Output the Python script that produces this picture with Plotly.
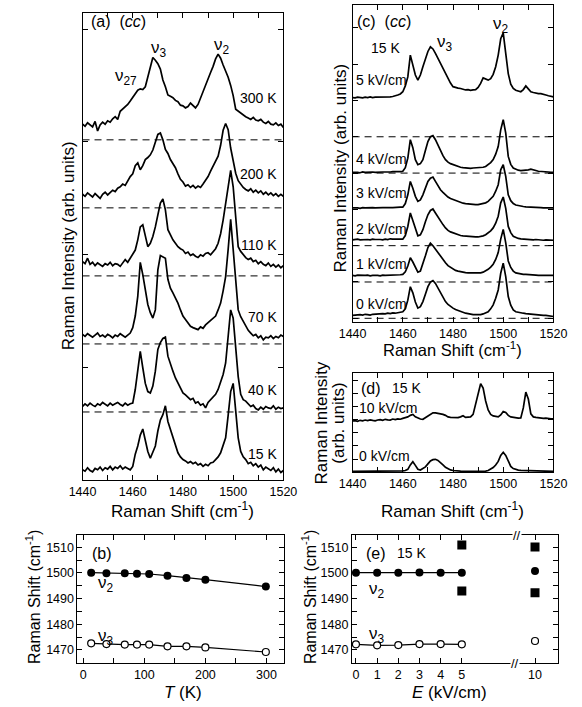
import plotly.graph_objects as go

W, H = 582, 707
FONT = "Liberation Sans, Arial, Helvetica, sans-serif"


def px(x):
    return x / W


def py(y):
    return 1 - y / H


# ---------------- data ----------------
shift = list(range(1440, 1521))  # Raman shift grid (cm^-1)

# (a) temperature dependence (cc)
a_labels = ["300 K", "200 K", "110 K", "70 K", "40 K", "15 K"]
a_300K = [.23, .20, .25, .22, .19, .27, .13, .22, .26, .23,
          .28, .26, .31, .34, .30, .42, .45, .48, .52, .57,
          .62, .68, .73, .75, .74, .78, .92, 1.09, 1.21, 1.17,
          1.12, 1.04, .88, .78, .66, .64, .62, .58, .56, .51,
          .50, .47, .49, .54, .50, .47, .52, .62, .70, .79,
          .90, .99, 1.08, 1.19, 1.26, 1.20, 1.10, 1.02, .92, .80,
          .65, .45, .42, .40, .36, .34, .32, .30, .33, .29,
          .28, .30, .26, .24, .27, .23, .22, .25, .21, .23,
          .18]
a_200K = [.20, .17, .22, .19, .16, .21, .18, .14, .20, .23,
          .19, .22, .26, .24, .29, .31, .35, .33, .40, .46,
          .50, .62, .66, .56, .62, .71, .74, .78, .85, .96,
          1.08, 1.10, 1.00, .86, .80, .71, .65, .59, .50, .42,
          .38, .32, .34, .30, .33, .29, .32, .30, .35, .40,
          .46, .54, .61, .68, .76, .92, 1.14, 1.24, 1.15, .88,
          .68, .51, .40, .34, .30, .27, .25, .28, .23, .26,
          .22, .25, .20, .23, .19, .22, .18, .21, .17, .20,
          .17]
a_110K = [.21, .18, .26, .17, .20, .15, .19, .16, .14, .18,
          .16, .20, .15, .18, .17, .14, .19, .24, .20, .26,
          .31, .38, .53, .72, .75, .57, .43, .48, .58, .72,
          .90, 1.07, 1.13, .97, .68, .60, .53, .48, .43, .40,
          .38, .33, .35, .30, .32, .29, .27, .31, .29, .33,
          .34, .31, .36, .40, .48, .62, .82, 1.05, 1.31, 1.55,
          1.31, .82, .43, .36, .31, .27, .24, .26, .21, .23,
          .18, .21, .17, .15, .19, .14, .17, .13, .16, .12,
          .15]
a_70K = [.14, .11, .15, .12, .10, .13, .16, .11, .13, .10,
         .14, .12, .09, .13, .11, .15, .12, .10, .13, .16,
         .24, .41, .70, 1.20, 1.02, .80, .58, .46, .38, .50,
         1.09, 1.30, 1.28, 1.26, .95, .82, .75, .68, .60, .50,
         .41, .36, .30, .26, .24, .22, .21, .25, .23, .28,
         .31, .34, .38, .41, .50, .60, .78, .99, 1.39, 1.83,
         1.39, 1.00, .50, .40, .33, .25, .20, .16, .12, .14,
         .09, .12, .06, .10, .09, .12, .08, .11, .09, .13,
         .11]
a_40K = [.08, .12, .09, .13, .10, .08, .12, .10, .14, .11,
         .09, .13, .10, .12, .14, .11, .09, .13, .10, .12,
         .13, .33, .60, .89, .65, .42, .30, .28, .38, .60,
         .92, 1.02, 1.08, 1.10, .82, .70, .60, .50, .43, .35,
         .28, .25, .22, .18, .20, .13, .15, .10, .12, .06,
         .14, .18, .23, .26, .33, .43, .55, .72, 1.11, 1.50,
         1.38, .98, .52, .26, .18, .16, .12, .08, .10, .05,
         .03, .07, .04, .08, .06, .05, .09, .04, .07, .05,
         .06]
a_15K = [.15, .13, .18, .14, .12, .17, .15, .19, .14, .18,
         .16, .20, .15, .19, .17, .21, .16, .19, .17, .15,
         .20, .38, .50, .66, .75, .58, .42, .32, .40, .50,
         .72, .88, .96, 1.09, .86, .74, .62, .50, .40, .34,
         .30, .28, .25, .27, .24, .26, .22, .24, .20, .23,
         .21, .25, .26, .30, .34, .40, .50, .62, .95, 1.30,
         1.42, 1.05, .62, .42, .34, .30, .24, .26, .21, .24,
         .19, .22, .15, .19, .16, .14, .18, .12, .16, .11,
         .14]

# (c) field dependence at 15 K (cc)
c_labels = ["5 kV/cm", "4 kV/cm", "3 kV/cm", "2 kV/cm", "1 kV/cm", "0 kV/cm"]
c_5 = [1.08, 1.07, 1.09, 1.08, 1.07, 1.09, 1.08, 1.10, 1.08, 1.09,
       1.09, 1.08, 1.10, 1.09, 1.10, 1.10, 1.11, 1.12, 1.15, 1.18,
       1.24, 1.40, 1.65, 2.25, 1.95, 1.70, 1.56, 1.70, 1.93, 2.15,
       2.35, 2.48, 2.42, 2.30, 2.16, 2.02, 1.88, 1.74, 1.60, 1.48,
       1.38, 1.35, 1.34, 1.33, 1.30, 1.29, 1.30, 1.28, 1.29, 1.30,
       1.36, 1.47, 1.62, 1.58, 1.56, 1.60, 1.72, 1.93, 2.25, 2.70,
       2.86, 2.30, 1.74, 1.45, 1.33, 1.28, 1.25, 1.24, 1.30, 1.40,
       1.32, 1.24, 1.22, 1.20, 1.19, 1.19, 1.18, 1.15, 1.13, 1.12,
       1.10]
c_4 = [.02, .03, .02, .01, .03, .02, .03, .02, .03, .02,
       .03, .02, .03, .03, .02, .03, .04, .03, .04, .04,
       .05, .15, .41, .92, .70, .37, .23, .26, .37, .62,
       .87, 1.00, 1.03, .92, .76, .60, .48, .37, .30, .26,
       .23, .20, .18, .16, .15, .14, .14, .13, .14, .14,
       .14, .15, .16, .18, .23, .29, .37, .52, .73, 1.19,
       1.47, 1.10, .46, .24, .14, .10, .08, .07, .07, .08,
       .09, .11, .10, .07, .05, .04, .04, .03, .03, .02,
       .02]
c_3 = [.04, .05, .04, .03, .05, .04, .05, .04, .05, .04,
       .05, .04, .05, .05, .04, .05, .05, .06, .05, .06,
       .06, .16, .40, .77, .58, .36, .22, .26, .40, .60,
       .77, .86, .89, .77, .66, .54, .47, .40, .34, .30,
       .27, .24, .21, .19, .17, .16, .15, .14, .14, .13,
       .13, .14, .16, .18, .22, .28, .36, .50, .68, 1.09,
       1.23, .91, .40, .24, .16, .12, .10, .09, .08, .07,
       .07, .06, .06, .05, .05, .05, .04, .05, .04, .04,
       .04]
c_2 = [.16, .17, .18, .16, .17, .18, .17, .16, .18, .17,
       .18, .17, .16, .18, .17, .19, .18, .17, .18, .18,
       .18, .28, .53, .90, .68, .44, .27, .30, .44, .66,
       .85, .97, 1.01, .90, .78, .67, .58, .49, .42, .38,
       .35, .32, .30, .28, .27, .26, .25, .25, .24, .24,
       .24, .25, .27, .30, .35, .41, .49, .62, .81, 1.18,
       1.34, 1.03, .53, .36, .26, .22, .20, .19, .18, .18,
       .17, .17, .16, .17, .16, .16, .15, .16, .15, .15,
       .15]
c_1 = [.18, .17, .19, .18, .17, .18, .19, .17, .18, .19,
       .18, .17, .19, .18, .18, .19, .18, .19, .20, .20,
       .21, .28, .44, .67, .55, .39, .27, .30, .49, .72,
       .95, 1.07, 1.00, .90, .81, .72, .62, .53, .45, .40,
       .35, .32, .30, .28, .27, .26, .25, .25, .24, .24,
       .24, .25, .27, .30, .35, .41, .49, .62, .81, 1.18,
       1.45, 1.08, .58, .40, .30, .25, .23, .22, .21, .21,
       .20, .20, .19, .19, .18, .18, .19, .18, .18, .17,
       .18]
c_0 = [.08, .09, .08, .10, .09, .11, .10, .09, .11, .12,
       .11, .12, .13, .12, .14, .13, .15, .14, .16, .17,
       .18, .26, .50, .87, .70, .45, .28, .32, .46, .66,
       .87, 1.00, 1.04, .96, .84, .69, .57, .46, .38, .32,
       .28, .24, .21, .18, .16, .14, .13, .11, .10, .10,
       .09, .10, .12, .14, .18, .26, .37, .55, .78, 1.24,
       1.52, 1.15, .60, .36, .23, .18, .16, .15, .14, .13,
       .12, .11, .11, .10, .10, .09, .08, .08, .07, .06,
       .05]

# (d) 15 K, 0 and 10 kV/cm
d_labels = ["10 kV/cm", "0 kV/cm"]
d_10 = [5.18, 5.22, 5.15, 5.25, 5.20, 5.28, 5.22, 5.30, 5.24, 5.20,
        5.28, 5.32, 5.25, 5.35, 5.30, 5.27, 5.38, 5.33, 5.40, 5.36,
        5.45, 5.50, 5.60, 5.75, 5.85, 5.60, 5.45, 5.38, 5.35, 5.50,
        5.70, 5.85, 6.00, 6.00, 5.95, 5.95, 5.85, 5.75, 5.60, 5.55,
        5.55, 5.50, 5.52, 5.60, 5.72, 5.55, 5.58, 5.60, 5.85, 6.80,
        8.00, 8.95, 8.50, 7.20, 6.30, 5.85, 5.70, 5.62, 5.60, 5.80,
        6.15, 6.05, 5.75, 5.60, 5.55, 5.52, 5.48, 5.50, 6.50, 8.10,
        7.40, 5.90, 5.60, 5.55, 5.50, 5.52, 5.45, 5.48, 5.42, 5.40,
        5.40]
d_0 = [.10, .10, .11, .10, .11, .10, .11, .11, .10, .11,
       .11, .12, .11, .12, .12, .13, .12, .13, .14, .14,
       .15, .18, .30, .75, 1.07, .70, .30, .23, .35, .55,
       .85, 1.15, 1.28, 1.31, 1.20, 1.00, .74, .50, .33, .24,
       .18, .14, .12, .11, .10, .10, .09, .09, .08, .08,
       .08, .09, .10, .12, .18, .32, .48, .74, 1.10, 1.70,
       2.02, 1.70, 1.10, .60, .38, .27, .22, .19, .18, .17,
       .17, .16, .15, .14, .13, .12, .12, .11, .11, .10,
       .10]

# (b) peak positions vs temperature
T_K = [13, 38, 68, 88, 108, 138, 169, 200, 299]
nu2_T = [1500.1, 1499.9, 1499.9, 1499.7, 1499.6, 1498.95, 1498.05, 1497.4, 1494.7]
nu3_T = [1472.6, 1472.3, 1472.1, 1472.1, 1472.1, 1471.4, 1471.4, 1471.0, 1469.2]

# (e) peak positions vs field (15 K)
E_low = [0, 1, 2, 3, 4, 5]
nu2_E = [1500.1, 1500.1, 1500.1, 1500.2, 1500.1, 1500.1]
nu3_E = [1472.2, 1471.8, 1471.9, 1472.3, 1472.3, 1472.2]
E_split_low = [5, 5]
split_low = [1510.9, 1493.0]
E_high = [10]
nu2_E10 = [1500.8]
nu3_E10 = [1473.5]
E_split_high = [10, 10]
split_high = [1510.1, 1492.3]

for s in [a_300K, a_200K, a_110K, a_70K, a_40K, a_15K,
          c_5, c_4, c_3, c_2, c_1, c_0, d_10, d_0]:
    assert len(s) == len(shift), len(s)

# ---------------- layout constants ----------------
a_offsets = [5, 4, 3, 2, 1, 0]
a_dashed = [1, 2, 3, 4, 5]
c_offsets = [5, 4, 3, 2, 1, 0]
c_dashed = [0, 1, 2, 4, 5]

fig = go.Figure()
LW = 1.7
dash_style = dict(color="black", width=1, dash="7px,5px")

# panel (a)
for k in a_dashed:
    fig.add_trace(go.Scatter(x=[shift[0], shift[-1]], y=[k, k], mode="lines",
                             line=dash_style, xaxis="x", yaxis="y", hoverinfo="skip"))
for spec, off in zip([a_300K, a_200K, a_110K, a_70K, a_40K, a_15K], a_offsets):
    fig.add_trace(go.Scatter(x=shift, y=[v + off for v in spec], mode="lines",
                             line=dict(color="black", width=LW), xaxis="x", yaxis="y"))

# panel (c)
for k in c_dashed:
    fig.add_trace(go.Scatter(x=[shift[0], shift[-1]], y=[k, k], mode="lines",
                             line=dash_style, xaxis="x2", yaxis="y2", hoverinfo="skip"))
for spec, off in zip([c_5, c_4, c_3, c_2, c_1, c_0], c_offsets):
    fig.add_trace(go.Scatter(x=shift, y=[v + off for v in spec], mode="lines",
                             line=dict(color="black", width=LW), xaxis="x2", yaxis="y2"))

# panel (d)
for spec in [d_10, d_0]:
    fig.add_trace(go.Scatter(x=shift, y=spec, mode="lines",
                             line=dict(color="black", width=LW), xaxis="x3", yaxis="y3"))

# panel (b)
fig.add_trace(go.Scatter(x=T_K, y=nu2_T, mode="lines+markers", xaxis="x4", yaxis="y4",
                         line=dict(color="black", width=1.2),
                         marker=dict(symbol="circle", size=8, color="black")))
fig.add_trace(go.Scatter(x=T_K, y=nu3_T, mode="lines+markers", xaxis="x4", yaxis="y4",
                         line=dict(color="black", width=1.2),
                         marker=dict(symbol="circle", size=7, color="white",
                                     line=dict(color="black", width=1.2))))

# panel (e)
fig.add_trace(go.Scatter(x=E_low, y=nu2_E, mode="lines+markers", xaxis="x5", yaxis="y5",
                         line=dict(color="black", width=1.2),
                         marker=dict(symbol="circle", size=8, color="black")))
fig.add_trace(go.Scatter(x=E_low, y=nu3_E, mode="lines+markers", xaxis="x5", yaxis="y5",
                         line=dict(color="black", width=1.2),
                         marker=dict(symbol="circle", size=7, color="white",
                                     line=dict(color="black", width=1.2))))
fig.add_trace(go.Scatter(x=E_split_low, y=split_low, mode="markers", xaxis="x5", yaxis="y5",
                         marker=dict(symbol="square", size=9, color="black")))
fig.add_trace(go.Scatter(x=E_high, y=nu2_E10, mode="markers", xaxis="x6", yaxis="y6",
                         marker=dict(symbol="circle", size=8, color="black")))
fig.add_trace(go.Scatter(x=E_high, y=nu3_E10, mode="markers", xaxis="x6", yaxis="y6",
                         marker=dict(symbol="circle", size=7, color="white",
                                     line=dict(color="black", width=1.2))))
fig.add_trace(go.Scatter(x=E_split_high, y=split_high, mode="markers", xaxis="x6", yaxis="y6",
                         marker=dict(symbol="square", size=9, color="black")))


def axis(**kw):
    d = dict(showline=True, linecolor="black", linewidth=1, mirror="allticks",
             ticks="inside", ticklen=5, tickwidth=1, tickcolor="black",
             showgrid=False, zeroline=False,
             tickfont=dict(family=FONT, size=12.5, color="black"))
    d.update(kw)
    return d


minor10 = dict(ticks="inside", ticklen=5, dtick=10, tickcolor="black", showgrid=False)

layout = dict(
    width=W, height=H, margin=dict(l=0, r=0, t=0, b=0),
    paper_bgcolor="white", plot_bgcolor="white", showlegend=False,
    font=dict(family=FONT, color="black"),
    # (a)
    xaxis=axis(domain=[px(72), px(283)], range=[1440, 1520], anchor="y",
               tickmode="linear", tick0=1440, dtick=20, minor=minor10),
    yaxis=axis(domain=[py(480), py(13.3)], range=[0, 6.86], anchor="x",
               tickmode="linear", tick0=0, dtick=1.657, showticklabels=False),
    # (c)
    xaxis2=axis(domain=[px(355.7), px(566.7)], range=[1440, 1520], anchor="y2",
                tickmode="linear", tick0=1440, dtick=20, minor=minor10),
    yaxis2=axis(domain=[py(321.7), py(5)], range=[-0.094, 8.63], anchor="x2",
                tickmode="linear", tick0=0, dtick=1, showticklabels=False),
    # (d)
    xaxis3=axis(domain=[px(355.7), px(566.7)], range=[1440, 1520], anchor="y3",
                tickmode="linear", tick0=1440, dtick=20, minor=minor10),
    yaxis3=axis(domain=[py(472.3), py(373.3)], range=[0, 10], anchor="x3",
                tickmode="linear", tick0=0, dtick=1.33, showticklabels=False),
    # (b)
    xaxis4=axis(domain=[px(66.7), px(283.3)], range=[-9.4, 328.2], anchor="y4",
                tickmode="linear", tick0=0, dtick=100,
                minor=dict(ticks="inside", ticklen=5, dtick=50, tickcolor="black", showgrid=False)),
    yaxis4=axis(domain=[py(663.3), py(535)], range=[1464.8, 1514.8], anchor="x4",
                tickmode="linear", tick0=1470, dtick=10,
                minor=dict(ticks="inside", ticklen=5, dtick=5, tickcolor="black", showgrid=False)),
    # (e) left part
    xaxis5=axis(domain=[px(355), px(528.3)], range=[-0.19, 7.6], anchor="y5",
                tickmode="array", tickvals=E_low),
    yaxis5=axis(domain=[py(663.3), py(535)], range=[1464.8, 1514.8], anchor="x5",
                mirror=False, tickmode="linear", tick0=1470, dtick=10,
                minor=dict(ticks="inside", ticklen=5, dtick=5, tickcolor="black", showgrid=False)),
    # (e) right part
    xaxis6=axis(domain=[px(528.3), px(571.7)], range=[9.14, 11.1], anchor="y6",
                tickmode="array", tickvals=E_high),
    yaxis6=axis(domain=[py(663.3), py(535)], range=[1464.8, 1514.8], anchor="x6",
                side="right", mirror=False, showticklabels=False,
                tickmode="linear", tick0=1470, dtick=10,
                minor=dict(ticks="inside", ticklen=5, dtick=5, tickcolor="black", showgrid=False)),
)
fig.update_layout(**layout)

anns = []


def ann(text, x, y, size=14, xanchor="center", angle=0, bg=None):
    d = dict(text=text, x=px(x), y=py(y), xref="paper", yref="paper",
             xanchor=xanchor, yanchor="middle", showarrow=False, textangle=angle,
             font=dict(family=FONT, size=size, color="black"))
    if bg:
        d["bgcolor"] = bg
        d["borderpad"] = 0
    anns.append(d)


# panel (a)
ann("(a)&nbsp; (<i>cc</i>)", 79, 22, 16, "left")
ann("ν<sub>27</sub>", 118, 77, 17)
ann("ν<sub>3</sub>", 152, 49, 17)
ann("ν<sub>2</sub>", 218, 46, 17)
for lab, yy in zip(a_labels, [98, 173.5, 245, 317, 390, 453.5]):
    ann(lab, 278, yy, 14, "right")
ann("Raman Shift (cm<sup>-1</sup>)", 177.5, 510, 17)
ann("Raman Intensity (arb. units)", 57, 246, 17, angle=-90)

# panel (c)
ann("(c)&nbsp; (<i>cc</i>)", 358, 22, 16, "left")
ann("15 K", 373, 48, 14, "left")
ann("ν<sub>3</sub>", 453, 43, 17)
ann("ν<sub>2</sub>", 512, 25, 17)
for lab, yy in zip(c_labels, [80, 158.5, 193.5, 229.5, 263.5, 303.5]):
    ann(lab, 357, yy, 14, "left")
ann("Raman Shift (cm<sup>-1</sup>)", 461, 349, 16.5)
ann("Raman Intensity (arb. units)", 342, 168, 17, angle=-90)

# panel (d)
ann("(d)", 362, 388, 16, "left")
ann("15 K", 395, 388, 14, "left")
ann(d_labels[0], 360, 408, 14, "left")
ann(d_labels[1], 360, 456, 14, "left")
ann("Raman Shift (cm<sup>-1</sup>)", 461, 510, 17)
ann("Raman Intensity", 323, 423, 17, angle=-90)
ann("(arb. units)", 340, 423, 17, angle=-90)

# panel (b)
ann("(b)", 80, 553, 16, "left")
ann("ν<sub>2</sub>", 97, 584, 17)
ann("ν<sub>3</sub>", 97, 637, 17)
ann("<i>T</i> (K)", 178, 692, 17)
ann("Raman Shift (cm<sup>-1</sup>)", 20, 597, 16, angle=-90)

# panel (e)
ann("(e)", 368, 553, 16, "left")
ann("15 K", 400, 553, 14, "left")
ann("ν<sub>2</sub>", 381, 590, 17)
ann("ν<sub>3</sub>", 381, 635, 17)
ann("<i>E</i> (kV/cm)", 457, 692, 17)
ann("Raman Shift (cm<sup>-1</sup>)", 310, 597, 16, angle=-90)
ann("//", 528, 535, 13, bg="white")
ann("//", 526, 663, 13, bg="white")

fig.update_layout(annotations=anns)
fig.write_html("out.html",
               config=dict(displayModeBar=False),
               post_script="document.body.style.margin='0px';"
                           "document.body.style.overflow='hidden';")
